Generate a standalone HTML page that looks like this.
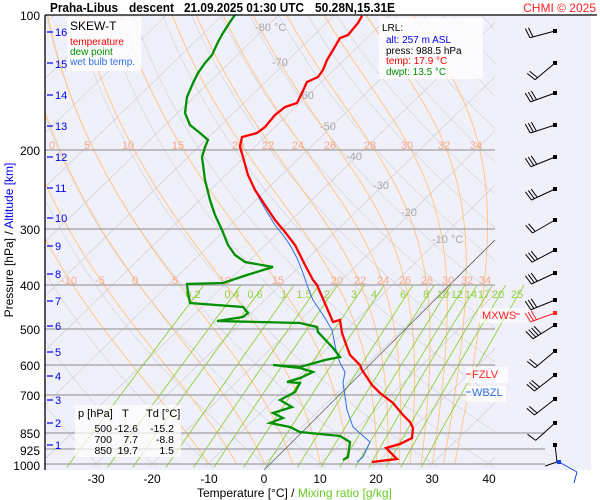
<!DOCTYPE html>
<html><head><meta charset="utf-8">
<style>
html,body{margin:0;padding:0;background:#fff;}
svg{display:block;font-family:"Liberation Sans",sans-serif;}
</style></head>
<body>
<svg id="s" width="600" height="500" viewBox="0 0 600 500" xmlns="http://www.w3.org/2000/svg">
<defs><clipPath id="cp"><rect x="45" y="15" width="450" height="455"/></clipPath>
<clipPath id="cp2"><rect x="45" y="15" width="480" height="455"/></clipPath></defs>
<rect x="45" y="15" width="546" height="455" fill="#f0f0fb"/>
<g id="grid"></g>
<g stroke="#a0a0a0" stroke-width="1.2">
<line x1="45" y1="150" x2="495" y2="150"/><line x1="45" y1="229" x2="495" y2="229"/>
<line x1="45" y1="285" x2="495" y2="285"/><line x1="45" y1="329" x2="495" y2="329"/>
<line x1="45" y1="365" x2="495" y2="365"/><line x1="45" y1="395" x2="495" y2="395"/>
<line x1="45" y1="433" x2="545" y2="433"/><line x1="45" y1="449" x2="545" y2="449"/>
<line x1="45" y1="464" x2="545" y2="464"/>
</g>
<line x1="264" y1="470" x2="495" y2="240" stroke="#555" stroke-width="0.7"/>
<g fill="#a8a8a8" font-size="11">
<text x="255" y="31">-80 °C</text><text x="272" y="66">-70</text><text x="298" y="99">-60</text>
<text x="320" y="130">-50</text><text x="346" y="160">-40</text><text x="373" y="189">-30</text>
<text x="401" y="216">-20</text><text x="432" y="243">-10 °C</text>
</g>
<g fill="#f5a888" font-size="11" text-anchor="middle">
<text x="52" y="149">0</text><text x="87" y="149">5</text><text x="128" y="149">10</text><text x="178" y="149">15</text>
<text x="238" y="149">20</text><text x="268" y="149">22</text><text x="298" y="149">24</text><text x="330" y="149">26</text>
<text x="370" y="149">28</text><text x="407" y="149">30</text><text x="444" y="149">32</text><text x="476" y="149">34</text>
<text x="69" y="284">-10</text><text x="100" y="284">-5</text><text x="135" y="284">0</text><text x="175" y="284">5</text>
<text x="225" y="284">10</text><text x="278" y="284">15</text><text x="337" y="284">20</text><text x="360" y="284">22</text>
<text x="383" y="284">24</text><text x="405" y="284">26</text><text x="427" y="284">28</text><text x="448" y="284">30</text>
<text x="467" y="284">32</text><text x="485" y="284">34</text>
</g>
<g fill="#98d040" font-size="11" text-anchor="middle">
<text x="193" y="298">0.2</text><text x="232" y="298">0.4</text><text x="255" y="298">0.6</text><text x="284" y="298">1</text>
<text x="304" y="298">1.5</text><text x="327" y="298">2</text><text x="354" y="298">3</text><text x="374" y="298">4</text>
<text x="403" y="298">6</text><text x="426" y="298">8</text><text x="443" y="298">10</text><text x="457" y="298">12</text>
<text x="471" y="298">14</text><text x="484" y="298">17</text><text x="498" y="298">20</text><text x="517" y="298">25</text>
</g>
<polyline fill="none" stroke="#3070e0" stroke-width="1" points="357,462 363,457 370,442 353,427 347,410 343,383 345,372 340,363 336,350 332,330 325,318 313,300 307,285 303,273 297,258 290,245 283,235 275,225 267,212 260,200 254,188 250,180 246,170 244,160"/>
<polyline fill="none" stroke="#009000" stroke-width="2.3" points="343,460 348,457 350,442 340,436 300,432 290,427 270,423 283,418 273,413 292,407 280,400 295,392 300,383 287,382 300,378 313,372 300,368 273,365 300,367 325,360 340,357 333,348 318,332 317,327 300,323 217,321 243,317 248,313 243,307 190,303 188,293 187,284 223,283 247,275 273,267 245,262 235,255 228,245 222,230 215,215 210,200 205,180 202,157 205,147 208,140 200,133 190,125 185,113 187,97 193,83 198,73 205,63 212,55 218,42 223,33 230,22 235,15"/>
<polyline fill="none" stroke="#ff0000" stroke-width="2.3" points="372,462 397,459 386,448 400,444 412,438 413,428 410,422 403,415 393,403 380,393 372,385 362,370 360,365 350,355 347,347 342,333 340,320 333,322 317,285 313,280 305,265 300,255 295,245 285,232 275,220 265,205 255,190 248,175 243,157 240,147 242,137 257,133 265,127 275,115 285,107 297,103 300,97 307,82 318,77 323,70 327,60 333,50 340,38 348,35 358,23 362,16"/>
<line x1="45" y1="15" x2="45" y2="470" stroke="#000" stroke-width="1.3"/>
<line x1="45" y1="15" x2="597" y2="15" stroke="#000" stroke-width="1.3"/>
<g font-size="12" text-anchor="end" fill="#000">
<text x="40" y="20">100</text><text x="40" y="155">200</text><text x="40" y="234">300</text><text x="40" y="290">400</text>
<text x="40" y="334">500</text><text x="40" y="370">600</text><text x="40" y="400">700</text><text x="40" y="438">850</text>
<text x="40" y="455">925</text><text x="40" y="470">1000</text>
</g>
<g stroke="#0000ee" stroke-width="1.2" id="kt"></g>
<g font-size="11" fill="#0000ee">
<text x="55" y="36">16</text><text x="55" y="68">15</text><text x="55" y="99">14</text><text x="55" y="130">13</text>
<text x="55" y="161">12</text><text x="55" y="192">11</text><text x="55" y="222">10</text><text x="55" y="250">9</text>
<text x="55" y="278">8</text><text x="55" y="305">7</text><text x="55" y="330">6</text><text x="55" y="356">5</text>
<text x="55" y="380">4</text><text x="55" y="404">3</text><text x="55" y="427">2</text><text x="55" y="449">1</text>
</g>
<g font-size="12" text-anchor="middle" fill="#000">
<text x="96" y="483">-30</text><text x="152" y="483">-20</text><text x="209" y="483">-10</text><text x="264" y="483">0</text>
<text x="320" y="483">10</text><text x="376" y="483">20</text><text x="432" y="483">30</text><text x="489" y="483">40</text>
</g>
<text x="197" y="497" font-size="12" fill="#000">Temperature [°C]  /  <tspan fill="#66cc22">Mixing ratio [g/kg]</tspan></text>
<text transform="translate(13,240) rotate(-90)" font-size="12" text-anchor="middle" fill="#000">Pressure [hPa]  /  <tspan fill="#0000ee">Altitude [km]</tspan></text>
<g font-size="13" font-weight="bold" fill="#000">
<text x="50" y="12" textLength="68" lengthAdjust="spacingAndGlyphs">Praha-Libus</text>
<text x="129" y="12" textLength="45" lengthAdjust="spacingAndGlyphs">descent</text>
<text x="184" y="12" textLength="120" lengthAdjust="spacingAndGlyphs">21.09.2025 01:30 UTC</text>
<text x="315" y="12" textLength="80" lengthAdjust="spacingAndGlyphs">50.28N,15.31E</text>
</g>
<text x="596" y="12" font-size="12" text-anchor="end" fill="#ff2020">CHMI © 2025</text>
<rect x="67" y="17" width="74" height="54" fill="#fff" opacity="0.8"/>
<text x="70" y="30" font-size="12" fill="#000">SKEW-T</text>
<text x="70" y="45" font-size="10" fill="#ff0000">temperature</text>
<text x="70" y="55" font-size="10" fill="#009000">dew point</text>
<text x="70" y="65" font-size="10" fill="#3070e0">wet bulb temp.</text>
<rect x="379" y="18" width="104" height="61" fill="#fff" opacity="0.8"/>
<g font-size="10">
<text x="382" y="31" fill="#000">LRL:</text>
<text x="386" y="43" fill="#0000ee">alt: 257 m ASL</text>
<text x="386" y="54" fill="#000">press: 988.5 hPa</text>
<text x="386" y="64" fill="#ff0000">temp: 17.9 °C</text>
<text x="386" y="75" fill="#009000">dwpt: 13.5 °C</text>
</g>
<rect x="75" y="405" width="106" height="52" fill="#fff" opacity="0.7"/>
<g font-size="11" fill="#000">
<text x="78" y="417">p [hPa]</text><text x="122" y="417">T</text><text x="146" y="417">Td [°C]</text>
<g text-anchor="end" font-size="10.5"><text x="112" y="432">500</text><text x="138" y="432">-12.6</text><text x="174" y="432">-15.2</text>
<text x="112" y="443">700</text><text x="138" y="443">7.7</text><text x="174" y="443">-8.8</text>
<text x="112" y="454">850</text><text x="138" y="454">19.7</text><text x="174" y="454">1.5</text></g>
</g>
<rect x="478" y="308" width="50" height="15" fill="#fff" opacity="0.6"/>
<text x="482" y="319" font-size="11" fill="#ff2020">MXWS</text><line x1="515" y1="314" x2="520" y2="314" stroke="#ff2020"/>
<rect x="466" y="367" width="42" height="16" fill="#fff" opacity="0.7"/>
<line x1="466" y1="374" x2="471" y2="374" stroke="#ff2020"/><text x="472" y="378" font-size="11" fill="#ff2020">FZLV</text>
<rect x="466" y="386" width="40" height="16" fill="#fff" opacity="0.7"/>
<line x1="466" y1="392" x2="471" y2="392" stroke="#3070e0"/><text x="472" y="396" font-size="11" fill="#3070e0">WBZL</text>
<g id="barbs" fill="none" stroke-width="1"></g>
</svg>
<script>
(function(){
var NS="http://www.w3.org/2000/svg",sk=1.03;
function Y(p){return 15+194.8*Math.log(p/100);}
function X(T,p){return 264+5.6*T+(464-Y(p))*sk;}
var g=document.getElementById('grid');
function pl(pts,col,w,clip){var e=document.createElementNS(NS,'polyline');e.setAttribute('points',pts.map(function(q){return q[0].toFixed(1)+','+q[1].toFixed(1)}).join(' '));e.setAttribute('fill','none');e.setAttribute('stroke',col);e.setAttribute('stroke-width',w);e.setAttribute('clip-path','url(#'+clip+')');g.appendChild(e);}
var T,p,pts;
for(T=-130;T<=50;T+=10){pl([[X(T,1020),Y(1020)],[X(T,100),Y(100)]],'#d2d2d8',0.8,'cp');}
for(var th=-40;th<=220;th+=10){pts=[];for(p=1020;p>=100;p-=10){pts.push([X((th+273.15)*Math.pow(p/1000,0.286)-273.15,p),Y(p)]);}pl(pts,'#d8d8de',0.8,'cp');}
function es(t){return 6.112*Math.exp(17.67*t/(t+243.5));}
[-10,-5,0,5,10,15,20,22,24,26,28,30,32,34].forEach(function(tw){var t=tw,pp,arr=[];
 for(pp=1000;pp>=100;pp-=2){arr.push([X(t,pp),Y(pp)]);var TK=t+273.15,e=es(t),rs=0.622*e/(pp-e);
 var d=(287*TK+2.5e6*rs)/(pp*(1004+2.5e6*2.5e6*rs*0.622/(287*TK*TK)));t-=d*2;}
 pl(arr,'#ffc47a',0.9,'cp');});
[0.2,0.4,0.6,1,1.5,2,3,4,6,8,10,12,14,17,20,25].forEach(function(w){pts=[];for(p=1020;p>=400;p-=10){var e=w*p/(622+w),l=Math.log(e/6.112);pts.push([X(243.5*l/(17.67-l),p),Y(p)]);}pl(pts,'#88cc22',0.8,'cp2');});
var kt=document.getElementById('kt');[32,63,95,126,157,188,218,246,274,301,326,352,376,400,423,445].forEach(function(y){var l=document.createElementNS(NS,'line');l.setAttribute('x1',47);l.setAttribute('x2',53);l.setAttribute('y1',y);l.setAttribute('y2',y);kt.appendChild(l);});
var b=document.getElementById('barbs');
function ln(a,c,col){var l=document.createElementNS(NS,'line');l.setAttribute('x1',a[0]);l.setAttribute('y1',a[1]);l.setAttribute('x2',c[0]);l.setAttribute('y2',c[1]);l.setAttribute('stroke',col);b.appendChild(l);}
function dot(x,y,col){var r=document.createElementNS(NS,'rect');r.setAttribute('x',x-2);r.setAttribute('y',y-2);r.setAttribute('width',4);r.setAttribute('height',4);r.setAttribute('fill',col);b.appendChild(r);}
function barb(y,ang,n,col){col=col||'#000';var L=26,a=ang*Math.PI/180,c=Math.cos(a),s=Math.sin(a);
 var ex=555-L*c,ey=y+L*s;ln([555,y],[ex,ey],col);dot(555,y,col);
 var px=-s,py=-c;
 for(var i=0;i<n;i++){var f=i*3.2,sx=ex+f*c,sy=ey-f*s;ln([sx,sy],[sx+10*px-2*c,sy+10*py+2*s],col);}}
[[31,15,2],[63,40,2],[93,20,3],[125,18,3],[157,22,3],[189,25,3],[220,30,2],[250,28,3],[273,25,3],[300,22,3],[325,32,4],[351,40,2],[375,38,3],[399,38,2],[423,42,1]].forEach(function(q){barb(q[0],q[1],q[2]);});
barb(313,20,3,'#ff2020');
ln([555,445],[557,462],'#000');ln([557,462],[545,466],'#000');dot(555,445,'#000');
ln([559,462],[577,472],'#1040e0');ln([577,472],[574,483],'#1040e0');dot(559,462,'#1040e0');
})();
</script>
</body></html>
